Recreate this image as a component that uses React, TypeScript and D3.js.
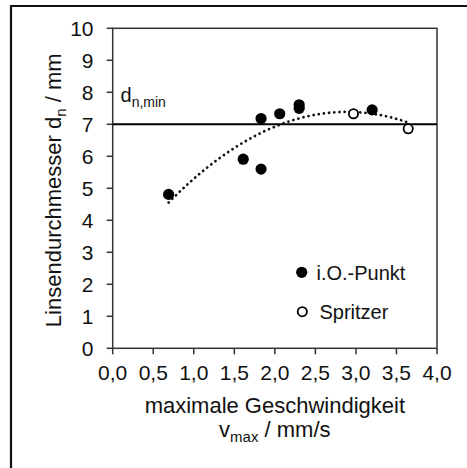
import React from "react";
import * as d3 from "d3";

const okX = [0.69, 1.61, 1.83, 1.83, 2.06, 2.3, 2.3, 3.2];
const okY = [4.81, 5.91, 5.6, 7.18, 7.33, 7.61, 7.5, 7.45];
const spX = [2.97, 3.645];
const spY = [7.33, 6.86];
const xTicks = [0, 0.5, 1, 1.5, 2, 2.5, 3, 3.5, 4];
const yTicks = [0, 1, 2, 3, 4, 5, 6, 7, 8, 9, 10];
const dMin = 7;

function quadFit(xs: number[], ys: number[]) {
  // least squares y = a + b x + c x^2
  let S = [0, 0, 0, 0, 0];
  let T = [0, 0, 0];
  xs.forEach((x, i) => {
    for (let k = 0; k < 5; k++) S[k] += Math.pow(x, k);
    for (let k = 0; k < 3; k++) T[k] += ys[i] * Math.pow(x, k);
  });
  const M = [
    [S[0], S[1], S[2], T[0]],
    [S[1], S[2], S[3], T[1]],
    [S[2], S[3], S[4], T[2]],
  ];
  for (let i = 0; i < 3; i++) {
    for (let j = i + 1; j < 3; j++) {
      const f = M[j][i] / M[i][i];
      for (let k = i; k < 4; k++) M[j][k] -= f * M[i][k];
    }
  }
  const c = [0, 0, 0];
  for (let i = 2; i >= 0; i--) {
    let s = M[i][3];
    for (let k = i + 1; k < 3; k++) s -= M[i][k] * c[k];
    c[i] = s / M[i][i];
  }
  return (x: number) => c[0] + c[1] * x + c[2] * x * x;
}

export default function App() {
  const left = 112.7, right = 437, top = 28.3, bottom = 348.3;
  const x = d3.scaleLinear().domain([0, 4]).range([left, right]);
  const y = d3.scaleLinear().domain([0, 10]).range([bottom, top]);
  const allX = okX.concat(spX);
  const allY = okY.concat(spY);
  const f = quadFit(allX, allY);
  const x0 = d3.min(allX)!, x1 = d3.max(allX)!;
  const trendPts = d3.range(0, 61).map((i) => {
    const xv = x0 + ((x1 - x0) * i) / 60;
    return [xv, f(xv)] as [number, number];
  });
  const line = d3
    .line<[number, number]>()
    .x((d) => x(d[0]))
    .y((d) => y(d[1]));
  const font = "'Liberation Sans', Arial, sans-serif";
  const fmt = (v: number) => v.toFixed(1).replace(".", ",");
  const axisColor = "#333";
  return (
    <svg
      width={467}
      height={468}
      style={{ position: "absolute", left: 0, top: 0, background: "#fff" }}
      fontFamily={font}
    >
      <path d="M11,470 V6 H470" fill="none" stroke="#111" strokeWidth={2.2} />
      {/* plot box */}
      <rect x={left} y={top} width={right - left} height={bottom - top} fill="none" stroke={axisColor} strokeWidth={1.5} />
      {yTicks.map((t) => (
        <g key={"y" + t}>
          <line x1={left - 6} x2={left} y1={y(t)} y2={y(t)} stroke={axisColor} strokeWidth={1.5} />
          <text x={93.5} y={y(t)} dy="0.36em" textAnchor="end" fontSize={21} fill="#111">
            {t}
          </text>
        </g>
      ))}
      {xTicks.map((t) => (
        <g key={"x" + t}>
          <line x1={x(t)} x2={x(t)} y1={bottom} y2={bottom + 6} stroke={axisColor} strokeWidth={1.5} />
          <text x={x(t)} y={380} textAnchor="middle" fontSize={21} fill="#111">
            {fmt(t)}
          </text>
        </g>
      ))}
      {/* d_n,min line */}
      <line x1={left} x2={right} y1={y(dMin)} y2={y(dMin)} stroke="#000" strokeWidth={2} />
      <text x={120.5} y={101.5} fontSize={20} fill="#111">
        d<tspan fontSize={14} dy={5}>n,min</tspan>
      </text>
      {/* trend */}
      <path d={line(trendPts) || ""} fill="none" stroke="#111" strokeWidth={2.8} strokeLinecap="round" strokeDasharray="0.01 5.2" />
      {okX.map((v, i) => (
        <circle key={"o" + i} cx={x(v)} cy={y(okY[i])} r={5.6} fill="#000" />
      ))}
      {spX.map((v, i) => (
        <circle key={"s" + i} cx={x(v)} cy={y(spY[i])} r={4.6} fill="#fff" stroke="#000" strokeWidth={1.8} />
      ))}
      {/* legend */}
      <circle cx={301.7} cy={272.3} r={5.6} fill="#000" />
      <text x={316.5} y={272.3} dy="0.36em" fontSize={20} fill="#111">i.O.-Punkt</text>
      <circle cx={302.3} cy={311.7} r={4.6} fill="#fff" stroke="#000" strokeWidth={1.8} />
      <text x={319.5} y={311.7} dy="0.36em" fontSize={20} fill="#111">Spritzer</text>
      {/* axis titles */}
      <text x={(left + right) / 2} y={413} textAnchor="middle" fontSize={22} fill="#111">
        maximale Geschwindigkeit
      </text>
      <text x={(left + right) / 2} y={437} textAnchor="middle" fontSize={22} fill="#111">
        v<tspan fontSize={15} dy={5}>max</tspan>
        <tspan dy={-5}> / mm/s</tspan>
      </text>
      <text transform={`translate(61,${(top + bottom) / 2 + 2}) rotate(-90)`} textAnchor="middle" fontSize={22} fill="#111">
        Linsendurchmesser d<tspan fontSize={15} dy={5}>n</tspan>
        <tspan dy={-5}>  / mm</tspan>
      </text>
    </svg>
  );
}
